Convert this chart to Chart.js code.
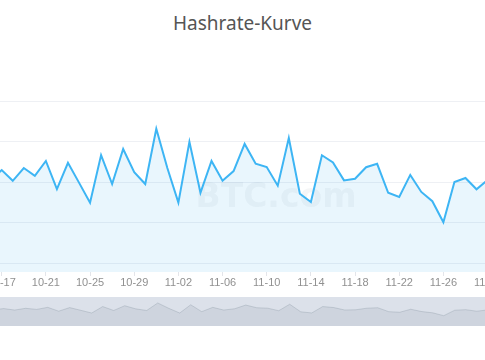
<!DOCTYPE html>
<html>
<head>
<meta charset="utf-8">
<title>Hashrate-Kurve</title>
<script src="https://cdn.jsdelivr.net/npm/chart.js@4.4.0/dist/chart.umd.min.js"></script>
<style>
    html, body { margin: 0; padding: 0; background: #ffffff; }
    body { width: 485px; height: 360px; overflow: hidden; position: relative; }
    #title {
        position: absolute; left: 0; top: 14px; width: 485px;
        text-align: center; line-height: 19px;
        font-family: "Noto Sans", sans-serif; font-size: 19px; color: #555555;
    }
    #main { position: absolute; left: 0; top: 0; }
    #zoomBar { position: absolute; left: 0; top: 297px; width: 540px; height: 29px; background: #dce1ea; }
    #zoomBar canvas { display: block; }
</style>
</head>
<body>
<div id="title">Hashrate-Kurve</div>
<canvas id="main" width="540" height="295"></canvas>
<div id="zoomBar"><canvas id="slider" width="540" height="29"></canvas></div>
<script>
// Days shown on the x axis
const dates = [
    '10-16', '10-17', '10-18', '10-19', '10-20', '10-21', '10-22', '10-23',
    '10-24', '10-25', '10-26', '10-27', '10-28', '10-29', '10-30', '10-31',
    '11-01', '11-02', '11-03', '11-04', '11-05', '11-06', '11-07', '11-08',
    '11-09', '11-10', '11-11', '11-12', '11-13', '11-14', '11-15', '11-16',
    '11-17', '11-18', '11-19', '11-20', '11-21', '11-22', '11-23', '11-24',
    '11-25', '11-26', '11-27', '11-28', '11-29', '11-30'
];

// Daily hashrate (EH/s)
const hashrate = [
    101.0, 105.9, 100.6, 106.9, 103.0, 110.4, 96.5, 109.5,
    99.7, 89.8, 113.3, 99.0, 116.3, 104.9, 99.0, 126.3,
    106.9, 89.8, 119.8, 94.7, 110.4, 100.6, 105.4, 118.8,
    109.0, 107.4, 98.2, 121.7, 94.2, 90.1, 113.2, 109.7,
    100.8, 101.6, 107.3, 109.0, 94.7, 92.6, 103.5, 95.1,
    90.5, 80.1, 100.0, 102.0, 96.4, 101.0
];

// Horizontal split lines of the value axis
const yTicks = [60, 80, 100, 120, 140];

const points = hashrate.map((v, i) => ({ x: i, y: v }));

// Pale logo behind the line
const watermark = {
    id: 'watermark',
    beforeDatasetsDraw(chart) {
        const c = chart.ctx;
        c.save();
        c.font = 'bold 33px "DejaVu Sans", sans-serif';
        c.fillStyle = 'rgba(60, 80, 100, 0.05)';
        c.textAlign = 'center';
        c.textBaseline = 'alphabetic';
        c.fillText('BTC.com', 276, 207);
        c.restore();
    }
};

// Main line chart
new Chart(document.getElementById('main'), {
    type: 'line',
    data: {
        datasets: [{
            label: 'Hashrate',
            data: points,
            borderColor: '#3db5f4',
            borderWidth: 2,
            backgroundColor: 'rgba(59, 176, 238, 0.11)',
            fill: 'start',
            tension: 0,
            pointRadius: 0,
            pointHoverRadius: 0
        }]
    },
    options: {
        responsive: false,
        devicePixelRatio: 1,
        animation: false,
        layout: { padding: { top: 101, left: 0, right: 0, bottom: 0 } },
        plugins: {
            legend: { display: false },
            title: { display: false },
            tooltip: { enabled: false }
        },
        scales: {
            x: {
                type: 'linear',
                min: 0.845,
                max: 49.75,
                border: { display: false },
                grid: {
                    drawOnChartArea: false,
                    drawTicks: true,
                    tickLength: 4,
                    color: '#e3e5ea'
                },
                ticks: {
                    padding: 0,
                    autoSkip: false,
                    maxRotation: 0,
                    color: '#909090',
                    font: { family: '"Liberation Sans", sans-serif', size: 11 },
                    callback: (value) => dates[value]
                },
                afterBuildTicks(scale) {
                    scale.ticks = dates
                        .map((d, i) => ({ value: i }))
                        .filter(t => (t.value - 1) % 4 === 0);
                },
                afterFit(scale) {
                    scale.paddingLeft = 0;
                    scale.paddingRight = 0;
                    scale.height = 23;
                }
            },
            y: {
                min: 55.56,
                max: 140,
                border: { display: false },
                grid: { drawTicks: false, color: '#eef0f4' },
                ticks: { display: false },
                afterBuildTicks(scale) {
                    scale.ticks = yTicks.map(v => ({ value: v }));
                }
            }
        }
    },
    plugins: [watermark]
});

// Data-zoom strip under the chart
new Chart(document.getElementById('slider'), {
    type: 'line',
    data: {
        datasets: [{
            data: points,
            borderColor: 'rgba(47, 69, 84, 0.22)',
            borderWidth: 0.7,
            backgroundColor: 'rgba(47, 69, 84, 0.08)',
            fill: 'start',
            tension: 0,
            pointRadius: 0
        }]
    },
    options: {
        responsive: false,
        devicePixelRatio: 1,
        animation: false,
        layout: { padding: 0 },
        plugins: {
            legend: { display: false },
            tooltip: { enabled: false }
        },
        scales: {
            x: { type: 'linear', display: false, min: 0.663, max: 49.75 },
            y: { display: false, min: 42.6, max: 148.1 }
        }
    }
});
</script>
</body>
</html>
